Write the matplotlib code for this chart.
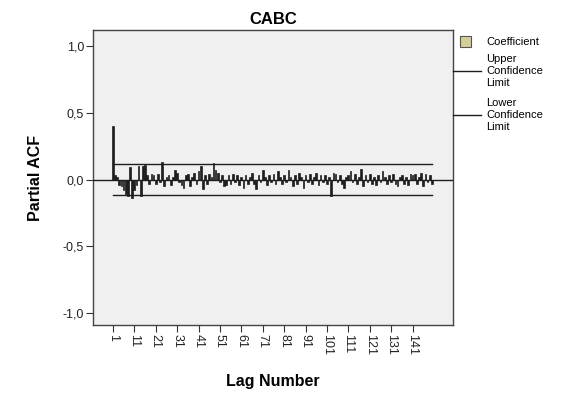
import numpy as np
import matplotlib
matplotlib.use('Agg')
import matplotlib.pyplot as plt
from matplotlib.patches import Rectangle
from matplotlib.lines import Line2D

# 偏自相关系数
pacf = [0.40, 0.03, 0.02, -0.04, -0.05, -0.08, -0.11, -0.12, 0.09, -0.14,
        -0.08, -0.04, 0.10, -0.12, 0.10, 0.11, 0.03, -0.03, 0.04, 0.03,
        -0.03, 0.04, -0.02, 0.13, -0.05, 0.02, 0.03, -0.04, 0.02, 0.07,
        0.05, -0.02, -0.04, -0.06, 0.03, 0.04, -0.05, 0.02, 0.05, -0.03,
        0.06, 0.10, -0.07, 0.03, -0.03, 0.04, 0.02, 0.12, 0.07, 0.05,
        -0.02, 0.03, -0.05, -0.04, 0.03, -0.03, 0.04, -0.02, 0.03, -0.04,
        0.02, -0.06, 0.03, -0.03, 0.02, 0.05, -0.03, -0.07, 0.03, -0.02,
        0.07, 0.02, -0.04, 0.03, -0.02, 0.04, -0.03, 0.06, 0.02, -0.03,
        0.03, -0.02, 0.07, 0.02, -0.05, 0.03, -0.03, 0.05, 0.02, -0.06,
        0.03, -0.02, 0.04, -0.03, 0.02, 0.05, -0.04, 0.03, -0.02, 0.03,
        -0.03, 0.02, -0.12, 0.05, 0.04, -0.02, 0.03, -0.03, -0.06, 0.02,
        0.03, 0.06, -0.02, 0.04, -0.03, 0.02, 0.08, -0.05, 0.03, -0.02,
        0.04, -0.03, 0.02, -0.04, 0.03, -0.02, 0.06, 0.02, -0.03, 0.03,
        -0.02, 0.04, -0.03, -0.05, 0.02, 0.03, -0.03, 0.02, -0.04, 0.04,
        0.03, 0.04, -0.03, 0.02, 0.05, -0.05, 0.04, -0.02, 0.03, -0.03]
lags = list(range(1, len(pacf) + 1))
upper_limit = 0.118
lower_limit = -0.118
xtick_lags = list(range(1, 142, 10))
ytick_vals = [-1.0, -0.5, 0.0, 0.5, 1.0]
ytick_labels = ['-1,0', '-0,5', '0,0', '0,5', '1,0']

plt.rcParams['font.family'] = ['Liberation Sans', 'DejaVu Sans']

W, H = 569, 394
fig = plt.figure(figsize=(W / 100, H / 100), dpi=100)
fig.patch.set_facecolor('white')

def px(x, y):
    # 像素坐标转为figure坐标
    return x / W, 1 - y / H

ax = fig.add_axes([93 / W, 1 - 325 / H, (453 - 93) / W, (325 - 30) / H])
ax.set_facecolor('#f0f0f0')

ax.bar(lags, pacf, width=0.8, color='#1e1e1e', edgecolor='#1e1e1e', linewidth=0.5, zorder=3)
ax.axhline(0, color='#1e1e1e', linewidth=1.0, zorder=4)
ax.plot([lags[0], lags[-1]], [upper_limit, upper_limit], color='#1e1e1e', linewidth=1.0, zorder=4)
ax.plot([lags[0], lags[-1]], [lower_limit, lower_limit], color='#1e1e1e', linewidth=1.0, zorder=4)

ax.set_xlim(-8.3, 159.9)
ax.set_ylim(-1.09, 1.12)

ax.set_xticks(xtick_lags)
ax.set_xticklabels([str(v) for v in xtick_lags], rotation=-90, fontsize=9, color='#222222')
ax.set_yticks(ytick_vals)
ax.set_yticklabels(ytick_labels, fontsize=9, color='#222222')
ax.tick_params(axis='both', direction='out', length=5, width=0.8, color='#333333', pad=1.5)

for s in ax.spines.values():
    s.set_color('#444444')
    s.set_linewidth(1.0)

ax.set_title('CABC', fontsize=12, fontweight='bold', pad=4)
ax.set_xlabel('Lag Number', fontsize=11.5, fontweight='bold', labelpad=14)
ax.set_ylabel('Partial ACF', fontsize=11.5, fontweight='bold', labelpad=14)

# 图例（手动绘制）
fx, fy = px(460, 47)
fig.patches.append(Rectangle((fx, fy), 11 / W, 11 / H, transform=fig.transFigure,
                             facecolor='#d4cf97', edgecolor='#555555', linewidth=0.8))
fig.text(*px(486, 42), 'Coefficient', fontsize=8, va='center', ha='left')
for y0, word in [(71, 'Upper'), (115, 'Lower')]:
    x1, y1 = px(453, y0)
    x2, _ = px(481, y0)
    fig.lines.append(Line2D([x1, x2], [y1, y1], transform=fig.transFigure, color='#1e1e1e', linewidth=1.0))
    fig.text(*px(486, y0 - 12), word, fontsize=8, va='center', ha='left')
    fig.text(*px(486, y0), 'Confidence', fontsize=8, va='center', ha='left')
    fig.text(*px(486, y0 + 12), 'Limit', fontsize=8, va='center', ha='left')

fig.savefig('out.png', dpi=100)
